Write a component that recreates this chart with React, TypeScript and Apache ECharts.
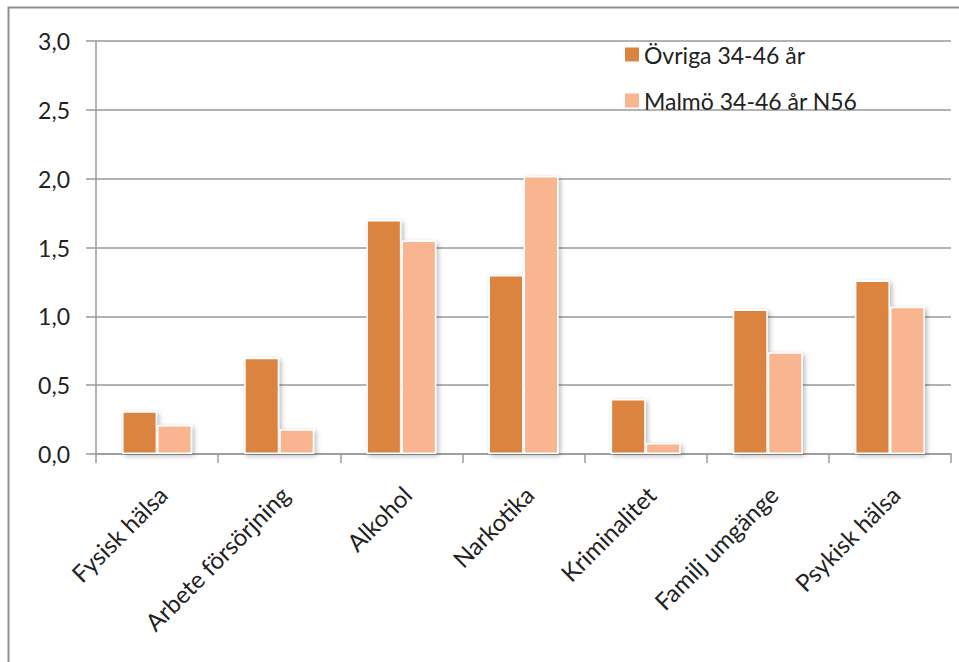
import React, { useEffect, useRef } from "react";
import * as echarts from "echarts";

const categories = [
  "Fysisk hälsa",
  "Arbete försörjning",
  "Alkohol",
  "Narkotika",
  "Kriminalitet",
  "Familj umgänge",
  "Psykisk hälsa",
];
const seriesNames = ["Övriga 34-46 år", "Malmö 34-46 år N56"];
const ovriga = [0.31, 0.7, 1.7, 1.3, 0.4, 1.05, 1.26];
const malmo = [0.21, 0.18, 1.55, 2.02, 0.08, 0.74, 1.07];
const seriesColors = ["#DA8440", "#F8B590"];

const FONT = "Lato, 'Open Sans', sans-serif";
const TEXT_COLOR = "#222222";

export default function App() {
  const ref = useRef<HTMLDivElement>(null);

  useEffect(() => {
    if (!ref.current) return;
    const chart = echarts.init(ref.current, null, { renderer: "svg" });
    const barStyle = (color: string) => ({
      color,
      borderColor: "#ffffff",
      borderWidth: 1.5,
      shadowBlur: 5,
      shadowOffsetX: 2,
      shadowOffsetY: 2,
      shadowColor: "rgba(0,0,0,0.28)",
    });
    chart.setOption({
      animation: false,
      backgroundColor: "#ffffff",
      textStyle: { fontFamily: FONT },
      graphic: [
        {
          type: "polyline",
          shape: { points: [[8.5, 662], [8.5, 7.5], [959, 7.5]] },
          style: { stroke: "#8f8f8f", lineWidth: 2, fill: "none" },
          silent: true,
        },
      ],
      grid: { left: 96, right: 8, top: 41, bottom: 208, containLabel: false },
      legend: {
        orient: "vertical",
        left: 625,
        top: 43,
        padding: 0,
        itemWidth: 14,
        itemHeight: 14,
        itemGap: 23,
        icon: "rect",
        data: seriesNames,
        itemStyle: { borderWidth: 0, shadowBlur: 0, shadowOffsetX: 0, shadowOffsetY: 0 },
        textStyle: { fontFamily: FONT, fontSize: 23, color: TEXT_COLOR },
      },
      xAxis: {
        type: "category",
        data: categories,
        boundaryGap: true,
        axisLine: { show: true, lineStyle: { color: "#9a9a9a", width: 1.5 } },
        axisTick: { show: true, length: 9, alignWithLabel: false, lineStyle: { color: "#9a9a9a", width: 1.5 } },
        axisLabel: {
          rotate: 45,
          interval: 0,
          margin: 42,
          padding: [0, -8, 0, 0],
          fontFamily: FONT,
          fontSize: 24,
          color: TEXT_COLOR,
        },
      },
      yAxis: {
        type: "value",
        min: 0,
        max: 3,
        interval: 0.5,
        axisLine: { show: true, lineStyle: { color: "#9a9a9a", width: 1.5 } },
        axisTick: { show: true, length: 10, lineStyle: { color: "#9a9a9a", width: 1.5 } },
        splitLine: { show: true, lineStyle: { color: "#9a9a9a", width: 1.5 } },
        axisLabel: {
          margin: 26,
          fontFamily: FONT,
          fontSize: 23,
          color: TEXT_COLOR,
          formatter: (v: number) => v.toFixed(1).replace(".", ","),
        },
      },
      series: [
        {
          name: seriesNames[0],
          type: "bar",
          data: ovriga,
          barWidth: 35,
          barGap: "0%",
          itemStyle: barStyle(seriesColors[0]),
        },
        {
          name: seriesNames[1],
          type: "bar",
          data: malmo,
          barWidth: 35,
          barGap: "0%",
          itemStyle: barStyle(seriesColors[1]),
        },
      ],
    });
    return () => chart.dispose();
  }, []);

  return (
    <div
      ref={ref}
      style={{ position: "absolute", left: 0, top: 0, width: 959, height: 662 }}
    />
  );
}
